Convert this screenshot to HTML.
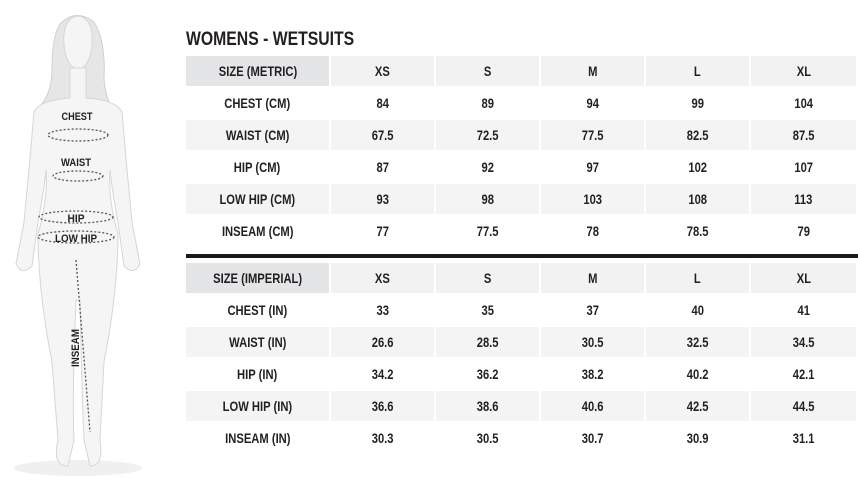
<!DOCTYPE html>
<html><head><meta charset="utf-8"><style>
body{margin:0;width:858px;height:490px;background:#fff;overflow:hidden;position:relative;font-family:"Liberation Sans Narrow","Liberation Sans",sans-serif;font-weight:bold;color:#231f20}
.t{position:absolute;left:186px;top:29px;font-size:19px;transform:scaleX(0.83);transform-origin:0 0;white-space:nowrap}
.r{position:absolute;left:186px;width:672px;height:30px;display:flex}
.r div{height:30px;line-height:31px;text-align:center;font-size:14px;margin-right:2px;white-space:nowrap}
.r div span{display:inline-block;transform:scaleX(0.8)}
.r div:nth-child(1){width:143px}
.r div:nth-child(n+2){width:103px}
.r div:last-child{margin-right:0;width:105px}
.g div{background:#f4f4f4}
.h div{background:#f2f2f2}
.h div:first-child{background:#e4e5e7}
.bar{position:absolute;left:186px;top:254px;width:672px;height:4px;background:#1a1a1a}
</style></head><body>
<svg style="position:absolute;left:0;top:0" width="160" height="490">
<ellipse cx="78" cy="468" rx="64" ry="8" fill="#f0f0f0"/>
<path d="M60,24 Q76,8 94,22 Q106,40 104,80 Q106,96 110,104 L78,106 L42,104 Q52,90 52,70 Q52,36 60,24Z" fill="#e6e6e6" stroke="#d0d0d0"/>
<path d="M78,16 Q94,18 92,45 Q90,66 78,70 Q66,66 64,45 Q62,18 78,16Z" fill="#f5f5f5" stroke="#d6d6d6"/>
<path d="M70,68 L70,98 Q40,100 34,112 Q30,160 24,222 L16,264 Q22,276 32,266 L38,222 Q44,190 46,170 Q48,200 38,234 Q38,290 52,362 L58,440 Q52,466 68,466 L74,440 Q72,400 76,300 L80,300 Q82,400 84,440 L90,466 Q104,466 100,440 L104,362 Q118,290 118,234 Q108,200 110,170 Q112,190 118,222 L124,266 Q134,276 140,264 L132,222 Q126,160 122,112 Q116,100 86,98 L86,68Z" fill="#f5f5f5" stroke="#d6d6d6"/>
<g fill="none" stroke="#555" stroke-dasharray="2,2" stroke-width="1.3">
<ellipse cx="78" cy="135" rx="30" ry="6"/>
<ellipse cx="78" cy="176" rx="25" ry="5"/>
<ellipse cx="76" cy="217" rx="37" ry="6"/>
<ellipse cx="76" cy="237" rx="38" ry="6"/>
<path d="M76,260 L90,432"/>
</g>
<g font-family="Liberation Sans,sans-serif" font-weight="bold" font-size="11" fill="#231f20" text-anchor="middle">
<text x="77" y="120" textLength="31" lengthAdjust="spacingAndGlyphs">CHEST</text>
<text x="76" y="166" textLength="30" lengthAdjust="spacingAndGlyphs">WAIST</text>
<text x="76" y="222" textLength="17" lengthAdjust="spacingAndGlyphs">HIP</text>
<text x="76" y="242" textLength="42" lengthAdjust="spacingAndGlyphs">LOW HIP</text>
<text transform="translate(79,348) rotate(-90)" textLength="38" lengthAdjust="spacingAndGlyphs">INSEAM</text>
</g>
</svg>
<div class="t">WOMENS - WETSUITS</div>
<div class="r h" style="top:56px"><div><span>SIZE (METRIC)</span></div><div><span>XS</span></div><div><span>S</span></div><div><span>M</span></div><div><span>L</span></div><div><span>XL</span></div></div>
<div class="r" style="top:88px"><div><span>CHEST (CM)</span></div><div><span>84</span></div><div><span>89</span></div><div><span>94</span></div><div><span>99</span></div><div><span>104</span></div></div>
<div class="r g" style="top:120px"><div><span>WAIST (CM)</span></div><div><span>67.5</span></div><div><span>72.5</span></div><div><span>77.5</span></div><div><span>82.5</span></div><div><span>87.5</span></div></div>
<div class="r" style="top:152px"><div><span>HIP (CM)</span></div><div><span>87</span></div><div><span>92</span></div><div><span>97</span></div><div><span>102</span></div><div><span>107</span></div></div>
<div class="r g" style="top:184px"><div><span>LOW HIP (CM)</span></div><div><span>93</span></div><div><span>98</span></div><div><span>103</span></div><div><span>108</span></div><div><span>113</span></div></div>
<div class="r" style="top:216px"><div><span>INSEAM (CM)</span></div><div><span>77</span></div><div><span>77.5</span></div><div><span>78</span></div><div><span>78.5</span></div><div><span>79</span></div></div>
<div class="bar"></div>
<div class="r h" style="top:263px"><div><span>SIZE (IMPERIAL)</span></div><div><span>XS</span></div><div><span>S</span></div><div><span>M</span></div><div><span>L</span></div><div><span>XL</span></div></div>
<div class="r" style="top:295px"><div><span>CHEST (IN)</span></div><div><span>33</span></div><div><span>35</span></div><div><span>37</span></div><div><span>40</span></div><div><span>41</span></div></div>
<div class="r g" style="top:327px"><div><span>WAIST (IN)</span></div><div><span>26.6</span></div><div><span>28.5</span></div><div><span>30.5</span></div><div><span>32.5</span></div><div><span>34.5</span></div></div>
<div class="r" style="top:359px"><div><span>HIP (IN)</span></div><div><span>34.2</span></div><div><span>36.2</span></div><div><span>38.2</span></div><div><span>40.2</span></div><div><span>42.1</span></div></div>
<div class="r g" style="top:391px"><div><span>LOW HIP (IN)</span></div><div><span>36.6</span></div><div><span>38.6</span></div><div><span>40.6</span></div><div><span>42.5</span></div><div><span>44.5</span></div></div>
<div class="r" style="top:423px"><div><span>INSEAM (IN)</span></div><div><span>30.3</span></div><div><span>30.5</span></div><div><span>30.7</span></div><div><span>30.9</span></div><div><span>31.1</span></div></div>
</body></html>
